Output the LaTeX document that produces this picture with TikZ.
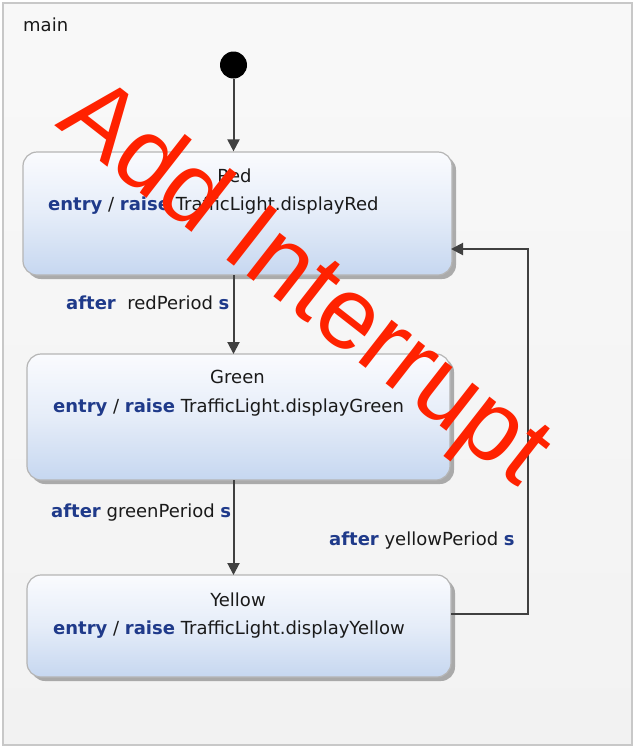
\documentclass[tikz,border=0pt]{standalone}
\usepackage{fontspec}
\setmainfont{DejaVu Sans}
\newfontfamily\wmfont{Liberation Sans}
\usetikzlibrary{arrows.meta,shadows}
\definecolor{kw}{HTML}{1F3A8A}
\definecolor{txt}{HTML}{1A1A1A}
\definecolor{edge}{HTML}{404040}
\definecolor{framebg}{HTML}{F2F2F2}
\definecolor{frameline}{HTML}{C8C8C8}
\definecolor{boxtop}{HTML}{FAFBFE}
\definecolor{boxbot}{HTML}{C6D7F0}
\definecolor{boxline}{HTML}{B5B5B5}
\definecolor{wm}{HTML}{FF2200}
\tikzset{
  statebox/.style={draw=boxline, line width=1.2pt, rounded corners=14pt,
    top color=boxtop, bottom color=boxbot, middle color=boxtop!60!boxbot,
    drop shadow={shadow xshift=4pt, shadow yshift=-4pt, fill=black, opacity=0.3},
    inner sep=0pt},
  lbl/.style={font=\fontsize{18}{21}\selectfont, text=txt, inner sep=0pt, anchor=base west},
  namelbl/.style={font=\fontsize{18}{21}\selectfont, text=txt, inner sep=0pt, anchor=base},
  trans/.style={draw=edge, line width=2pt, -{Triangle[length=12pt,width=12pt]}},
}
\newcommand{\kwd}[1]{{\bfseries\color{kw}#1}}
\begin{document}
\begin{tikzpicture}[x=1pt,y=-1pt]
\useasboundingbox (0,0) rectangle (635,748);
% frame
\node[draw=frameline, line width=2pt, top color=white!50!framebg, bottom color=framebg,
  minimum width=629pt, minimum height=742pt, inner sep=0pt] (frame) at (317,373.5) {};
\node[lbl] (mainlbl) at (23,31) {main};
% initial
\node[circle, fill=black, minimum size=27pt, inner sep=0pt] (init) at (233.5,65) {};
% states
\node[statebox, minimum width=429pt, minimum height=123pt] (red) at (237.5,213.5) {};
\node[namelbl] (redname) at (234.5,182) {Red};
\node[lbl] (redentry) at (48,210) {\kwd{entry} / \kwd{raise} TrafficLight.displayRed};

\node[statebox, minimum width=423pt, minimum height=126pt] (green) at (238.5,417) {};
\node[namelbl] (greenname) at (237.5,383) {Green};
\node[lbl] (greenentry) at (53,412) {\kwd{entry} / \kwd{raise} TrafficLight.displayGreen};

\node[statebox, minimum width=424pt, minimum height=102pt] (yellow) at (239,626) {};
\node[namelbl] (yellowname) at (238,606) {Yellow};
\node[lbl] (yellowentry) at (53,634) {\kwd{entry} / \kwd{raise} TrafficLight.displayYellow};

% transitions
\draw[trans] (init.south) -- (init.south |- red.north);
\draw[trans] (233.5,275) coordinate (r2g) -- (233.5,354) coordinate (g1);
\draw[trans] (233.5,480) coordinate (g2y) -- (233.5,575) coordinate (y1);
\coordinate (yout) at (451,614);
\coordinate (c1) at (527.5,614);
\coordinate (c2) at (527.5,249);
\coordinate (rin) at (451,249);
\draw[trans] (yout) -- (c1) -- (c2) -- (rin);

\node[lbl] (l1) at (66,309) {\kwd{after}\ \ redPeriod \kwd{s}};
\node[lbl] (l2) at (51,517.5) {\kwd{after} greenPeriod \kwd{s}};
\node[lbl] (l3) at (329,545) {\kwd{after} yellowPeriod \kwd{s}};

% watermark
\node[font=\wmfont\fontsize{102}{102}\selectfont, text=wm, inner sep=0pt, anchor=base west, rotate=-38] (wmark) at (54,125) {Add Interrupt};
\end{tikzpicture}
\end{document}
